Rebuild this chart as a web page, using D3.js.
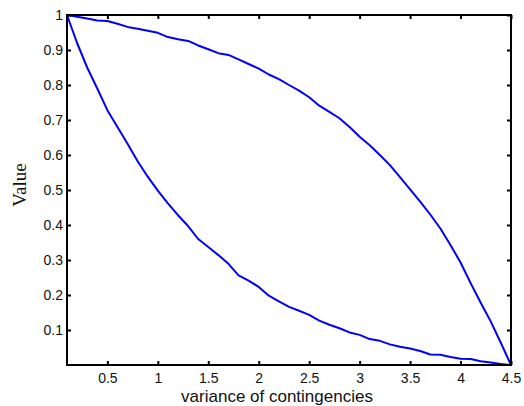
<!DOCTYPE html>
<html><head><meta charset="utf-8">
<script src="https://cdn.jsdelivr.net/npm/d3@7/dist/d3.min.js"></script>
<style>body{margin:0;background:#fff}svg{display:block}</style>
</head><body><svg id="c" width="524" height="406"></svg>
<script>
const xValues = d3.range(45).map(i => +(0.1 + i * 0.1).toFixed(1));
const upperSeries = [1.0,0.995,0.99,0.984,0.983,0.975,0.966,0.961,0.955,0.949,0.937,0.931,0.926,0.913,0.902,0.891,0.886,0.873,0.860,0.847,0.830,0.817,0.800,0.784,0.765,0.741,0.723,0.705,0.680,0.652,0.628,0.600,0.571,0.537,0.502,0.467,0.430,0.390,0.343,0.293,0.234,0.178,0.124,0.063,0.0];
const lowerSeries = [1.0,0.92,0.85,0.79,0.728,0.68,0.632,0.582,0.538,0.498,0.462,0.428,0.397,0.360,0.337,0.314,0.289,0.256,0.241,0.223,0.198,0.182,0.166,0.155,0.143,0.127,0.115,0.105,0.093,0.086,0.074,0.069,0.059,0.052,0.047,0.040,0.030,0.029,0.023,0.018,0.017,0.011,0.007,0.003,0.0];
const xTicks = [0.5,1,1.5,2,2.5,3,3.5,4,4.5];
const yTicks = [0.1,0.2,0.3,0.4,0.5,0.6,0.7,0.8,0.9,1];
const xLabel = "variance of contingencies";
const yLabel = "Value";

const L = 67, R = 511, T = 15, B = 365;
const svg = d3.select("#c");
const x = d3.scaleLinear().domain([0.1, 4.5]).range([L, R]);
const y = d3.scaleLinear().domain([0, 1]).range([B, T]);

const line = d3.line().x((d, i) => x(xValues[i])).y(d => y(d));
[upperSeries, lowerSeries].forEach(s => {
  svg.append("path").datum(s).attr("d", line)
    .attr("fill", "none").attr("stroke", "#0000ff").attr("stroke-width", 2)
    .attr("stroke-linejoin", "round");
});

const font = "'Liberation Sans', Arial, sans-serif";
function style(g) {
  g.select(".domain").remove();
  g.selectAll(".tick line").attr("stroke", "#000").attr("stroke-width", 2);
  g.selectAll("text").attr("font-family", font).attr("font-size", 14).attr("fill", "#111");
}
// bottom
svg.append("g").attr("transform", `translate(0,${B})`)
  .call(d3.axisBottom(x).tickValues(xTicks).tickFormat(d3.format("")).tickSizeInner(-4).tickSizeOuter(0).tickPadding(8))
  .call(style);
// top
svg.append("g").attr("transform", `translate(0,${T})`)
  .call(d3.axisTop(x).tickValues(xTicks).tickFormat("").tickSizeInner(-4).tickSizeOuter(0))
  .call(style);
// left
svg.append("g").attr("transform", `translate(${L},0)`)
  .call(d3.axisLeft(y).tickValues(yTicks).tickFormat(d3.format("")).tickSizeInner(-4).tickSizeOuter(0).tickPadding(4))
  .call(style);
// right
svg.append("g").attr("transform", `translate(${R},0)`)
  .call(d3.axisRight(y).tickValues(yTicks).tickFormat("").tickSizeInner(-4).tickSizeOuter(0))
  .call(style);

svg.append("rect").attr("x", L).attr("y", T).attr("width", R - L).attr("height", B - T)
  .attr("fill", "none").attr("stroke", "#000").attr("stroke-width", 2);

svg.append("text").attr("x", (L + R) / 2 - 12).attr("y", 402).attr("text-anchor", "middle")
  .attr("font-family", font).attr("font-size", 17).attr("fill", "#111").text(xLabel);
svg.append("text").attr("transform", `translate(26,185) rotate(-90)`).attr("text-anchor", "middle")
  .attr("font-family", "'Liberation Serif', 'Times New Roman', serif").attr("font-size", 19).attr("fill", "#111").text(yLabel);
</script></body></html>
